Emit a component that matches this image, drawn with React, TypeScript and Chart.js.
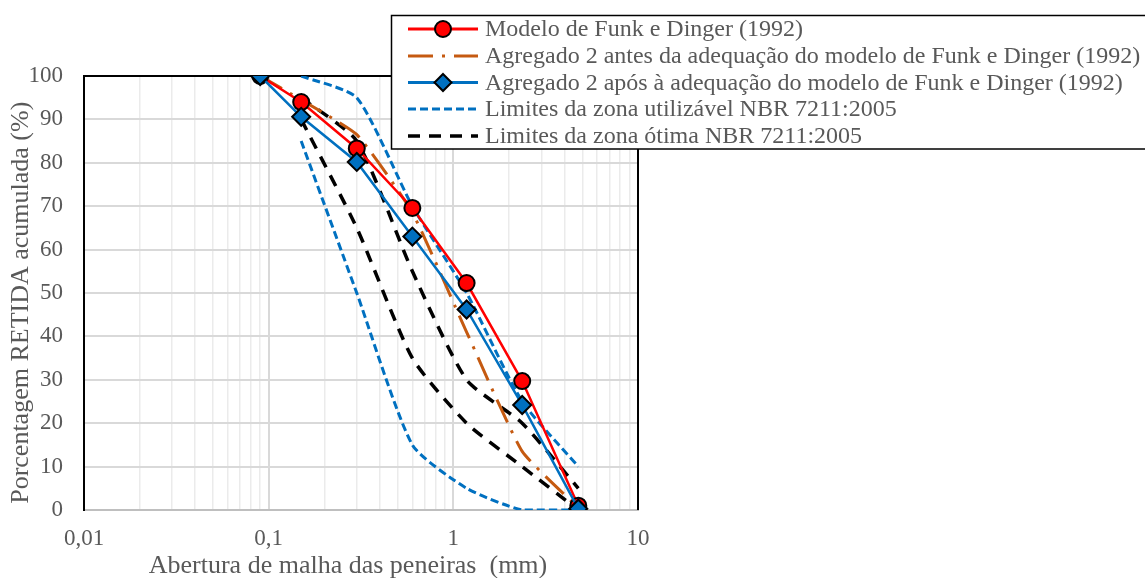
import React, { useEffect, useRef } from 'react';
import { Chart, registerables } from 'chart.js';

Chart.register(...registerables);

// Sieve openings (mm)
const sieves = [0.09, 0.15, 0.3, 0.6, 1.18, 2.36, 4.75];
const limitSieves = [0.15, 0.3, 0.6, 1.18, 2.36, 4.75];

// Series values (% retida acumulada)
const funkDinger = [100, 94, 83.3, 69.6, 52.3, 29.7, 1];
const antes = [100, 94.5, 86.5, 68.5, 41, 13.5, 0.5];
const apos = [100, 90.6, 80.2, 63, 46.2, 24.2, 0.3];
const usableLower = [85, 50, 15, 5, 0, 0];
const usableUpper = [100, 95, 70, 50, 25, 10];
const optimalLower = [90, 65, 35, 20, 10, 0];
const optimalUpper = [95, 85, 55, 30, 20, 5];

// Tick labels
const xTickValues = [
  0.01, 0.02, 0.03, 0.04, 0.05, 0.06, 0.07, 0.08, 0.09,
  0.1, 0.2, 0.3, 0.4, 0.5, 0.6, 0.7, 0.8, 0.9,
  1, 2, 3, 4, 5, 6, 7, 8, 9, 10,
];
const xMajorValues = [0.01, 0.1, 1, 10];
const xMajorLabels = ['0,01', '0,1', '1', '10'];

const legendLabels = [
  'Modelo de Funk e Dinger (1992)',
  'Agregado 2 antes da adequação do modelo de Funk e Dinger (1992)',
  'Agregado 2 após à adequação do modelo de Funk e Dinger (1992)',
  'Limites da zona utilizável NBR 7211:2005',
  'Limites da zona ótima NBR 7211:2005',
];

const FONT = "'Liberation Serif', 'Times New Roman', serif";
const TEXT = '#595959';
const RED = '#ff0000';
const ORANGE = '#c55a11';
const BLUE = '#0070c0';

const pts = (xs: number[], ys: number[]) => xs.map((x, i) => ({ x, y: ys[i] }));

const majorIndex = (v: number) => xMajorValues.findIndex((m) => Math.abs(m - v) / m < 1e-6);
const isMajor = (v: number) => majorIndex(v) >= 0;

export default function App() {
  const ref = useRef<HTMLCanvasElement | null>(null);

  useEffect(() => {
    if (!ref.current) return;

    const frame = {
      id: 'frame',
      beforeDatasetsDraw(chart: any) {
        const { ctx, chartArea: a } = chart;
        ctx.save();
        ctx.strokeStyle = '#000';
        ctx.lineWidth = 2;
        ctx.beginPath();
        ctx.moveTo(a.left, a.bottom);
        ctx.lineTo(a.left, a.top);
        ctx.lineTo(a.right, a.top);
        ctx.lineTo(a.right, a.bottom);
        ctx.stroke();
        ctx.restore();
      },
    };

    const legendPlugin = {
      id: 'customLegend',
      afterDraw(chart: any) {
        const { ctx } = chart;
        ctx.save();
        ctx.fillStyle = '#fff';
        ctx.fillRect(391, 15, 760, 134);
        ctx.strokeStyle = '#000';
        ctx.lineWidth = 1.5;
        ctx.strokeRect(391.5, 15.5, 760, 133.5);
        const rows = [29, 56, 82.5, 109, 136];
        const x0 = 408, x1 = 478, xm = 443;
        const styles = [
          { color: RED, dash: [], width: 3, marker: 'circle' },
          { color: ORANGE, dash: [25, 9, 3, 9], width: 3, marker: null },
          { color: BLUE, dash: [], width: 3, marker: 'diamond' },
          { color: BLUE, dash: [8, 4], width: 3, marker: null },
          { color: '#000', dash: [12, 9], width: 3.5, marker: null },
        ];
        styles.forEach((s, i) => {
          const y = rows[i];
          ctx.beginPath();
          ctx.setLineDash(s.dash);
          ctx.strokeStyle = s.color;
          ctx.lineWidth = s.width;
          ctx.moveTo(x0, y);
          ctx.lineTo(x1, y);
          ctx.stroke();
          ctx.setLineDash([]);
          if (s.marker === 'circle') {
            ctx.beginPath();
            ctx.arc(xm, y, 8, 0, Math.PI * 2);
            ctx.fillStyle = RED;
            ctx.fill();
            ctx.lineWidth = 2;
            ctx.strokeStyle = '#000';
            ctx.stroke();
          } else if (s.marker === 'diamond') {
            ctx.beginPath();
            ctx.moveTo(xm, y - 8.5);
            ctx.lineTo(xm + 8.5, y);
            ctx.lineTo(xm, y + 8.5);
            ctx.lineTo(xm - 8.5, y);
            ctx.closePath();
            ctx.fillStyle = BLUE;
            ctx.fill();
            ctx.lineWidth = 2;
            ctx.strokeStyle = '#000';
            ctx.stroke();
          }
          ctx.fillStyle = TEXT;
          ctx.font = `24px ${FONT}`;
          ctx.textBaseline = 'middle';
          ctx.textAlign = 'left';
          ctx.fillText(legendLabels[i], 485, y + 1);
        });
        ctx.restore();
      },
    };

    const chart = new Chart(ref.current, {
      type: 'line',
      data: {
        datasets: [
          {
            label: legendLabels[2],
            data: pts(sieves, apos),
            borderColor: BLUE,
            backgroundColor: BLUE,
            borderWidth: 2.5,
            pointStyle: 'rectRot',
            pointRadius: 9,
            pointBorderColor: '#000',
            pointBorderWidth: 2,
            tension: 0,
          },
          {
            label: legendLabels[0],
            data: pts(sieves, funkDinger),
            borderColor: RED,
            backgroundColor: RED,
            borderWidth: 2.5,
            pointStyle: 'circle',
            pointRadius: 8,
            pointBorderColor: '#000',
            pointBorderWidth: 2,
            tension: 0,
          },
          {
            label: legendLabels[1],
            data: pts(sieves, antes),
            borderColor: ORANGE,
            borderWidth: 3,
            borderDash: [25, 9, 3, 9],
            pointRadius: 0,
            tension: 0.15,
          },
          {
            label: legendLabels[3],
            data: pts(limitSieves, usableLower),
            borderColor: BLUE,
            borderWidth: 3,
            borderDash: [8, 4],
            pointRadius: 0,
            tension: 0.2,
          },
          {
            label: legendLabels[3] + ' sup',
            data: pts(limitSieves, usableUpper),
            borderColor: BLUE,
            borderWidth: 3,
            borderDash: [8, 4],
            pointRadius: 0,
            tension: 0.2,
          },
          {
            label: legendLabels[4],
            data: pts(limitSieves, optimalLower),
            borderColor: '#000',
            borderWidth: 3.5,
            borderDash: [12, 9],
            pointRadius: 0,
            tension: 0.2,
          },
          {
            label: legendLabels[4] + ' sup',
            data: pts(limitSieves, optimalUpper),
            borderColor: '#000',
            borderWidth: 3.5,
            borderDash: [12, 9],
            pointRadius: 0,
            tension: 0.2,
          },
        ],
      },
      options: {
        animation: false,
        responsive: false,
        maintainAspectRatio: false,
        layout: { padding: { left: 0, right: 507, top: 76, bottom: 0 } },
        plugins: { legend: { display: false }, tooltip: { enabled: false } },
        elements: { line: { fill: false } },
        scales: {
          x: {
            type: 'logarithmic',
            min: 0.01,
            max: 10,
            afterBuildTicks: (scale: any) => {
              scale.ticks = xTickValues.map((v) => ({ value: v, major: isMajor(v) }));
            },
            afterFit: (scale: any) => {
              scale.height = 68;
            },
            ticks: {
              autoSkip: false,
              maxRotation: 0,
              padding: 15,
              color: TEXT,
              font: { family: FONT, size: 23 },
              callback: (v: any) => {
                const i = majorIndex(Number(v));
                return i >= 0 ? xMajorLabels[i] : '';
              },
            },
            grid: {
              drawTicks: false,
              color: (c: any) => (c.tick && isMajor(c.tick.value) ? '#d9d9d9' : '#ebebeb'),
              lineWidth: (c: any) => (c.tick && isMajor(c.tick.value) ? 2 : 1.5),
            },
            border: { color: '#bfbfbf', width: 2 },
            title: {
              display: true,
              text: 'Abertura de malha das peneiras  (mm)    ',
              color: TEXT,
              font: { family: FONT, size: 26 },
              padding: { top: 0, bottom: -4 },
            },
          },
          y: {
            min: 0,
            max: 100,
            afterFit: (scale: any) => {
              scale.width = 84;
            },
            ticks: {
              stepSize: 10,
              padding: 21,
              color: TEXT,
              font: { family: FONT, size: 23 },
            },
            grid: { drawTicks: false, color: '#d9d9d9', lineWidth: 2 },
            border: { color: '#000', width: 2 },
            title: {
              display: true,
              text: 'Porcentagem RETIDA acumulada (%)   ',
              color: TEXT,
              font: { family: FONT, size: 26 },
              padding: { top: 6, bottom: 0 },
            },
          },
        },
      },
      plugins: [frame, legendPlugin],
    } as any);

    return () => chart.destroy();
  }, []);

  return (
    <div style={{ position: 'fixed', left: 0, top: 0, width: 1145, height: 578, background: '#fff' }}>
      <canvas ref={ref} width={1145} height={578} style={{ display: 'block', width: 1145, height: 578 }} />
    </div>
  );
}
